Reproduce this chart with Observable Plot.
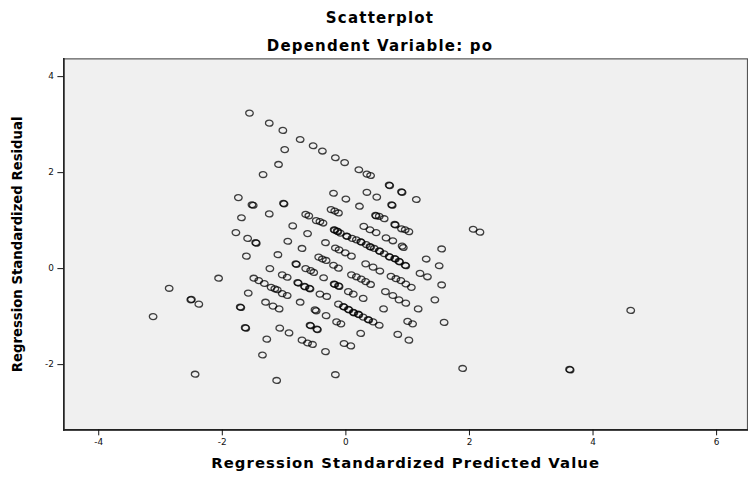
<!DOCTYPE html>
<html>
<head>
<meta charset="utf-8">
<script src="https://cdn.jsdelivr.net/npm/d3@7"></script>
<script src="https://cdn.jsdelivr.net/npm/@observablehq/plot@0.6"></script>
<style>
  html, body { margin: 0; padding: 0; background: #fff; overflow: hidden; }
  #wrap { position: relative; width: 748px; height: 478px; overflow: hidden; }
  .ttl { position: absolute; left: 0; width: 760px; text-align: center;
         font-family: "DejaVu Sans", sans-serif; font-weight: bold; font-size: 15px;
         line-height: 15px; letter-spacing: 1.2px; color: #000; }
  #chart svg g[aria-label="x-axis label"] text { font-weight: bold; font-size: 15px; letter-spacing: 1.1px; fill: #000; }
  #chart svg g[aria-label="y-axis label"] text { font-weight: bold; font-size: 13.4px; fill: #000; }
</style>
</head>
<body>
<div id="wrap">
  <div id="chart"></div>
  <div class="ttl" style="top:10.5px">Scatterplot</div>
  <div class="ttl" style="top:38.5px">Dependent Variable: po</div>
</div>
<script>
// Regression standardized predicted value (x) and residual (y)
const predicted = [
  -1.56,-1.24,-1.02,-0.99,-1.09,-1.34,-1.74,-1.52,-1.50,-1.01,
  -1.00,-1.69,-1.24,-0.86,-1.78,-1.59,-1.46,-1.45,-0.94,-1.61,
  -1.10,-0.81,-0.80,-1.23,-1.03,-0.95,-1.49,-1.41,-1.32,-1.21,
  -1.15,-1.11,-1.03,-0.95,-1.58,-1.71,-1.70,-1.30,-1.18,-1.08,
  -1.63,-1.62,-1.07,-0.92,-1.28,-1.35,-1.12,-2.06,-2.86,-2.51,
  -2.50,-2.38,-3.12,-2.44,
  -0.74,-0.53,-0.38,-0.17,-0.65,-0.60,-0.48,-0.42,-0.37,-0.62,
  -0.71,-0.33,-0.20,-0.24,-0.18,-0.12,-0.19,-0.18,-0.14,-0.13,
  -0.09,-0.17,-0.11,-0.44,-0.38,-0.32,-0.20,-0.12,-0.65,-0.57,
  -0.52,-0.78,-0.77,-0.67,-0.66,-0.59,-0.58,-0.36,-0.19,-0.18,
  -0.12,-0.11,-0.42,-0.31,-0.74,-0.50,-0.48,-0.32,-0.12,-0.15,
  -0.08,-0.58,-0.57,-0.47,-0.46,-0.71,-0.62,-0.54,-0.33,-0.17,
  -0.02,0.21,0.34,0.40,0.70,0.71,0.90,0.91,0.34,0.50,
  0.00,0.22,0.74,0.75,0.48,0.49,0.54,0.62,0.79,0.80,
  0.90,0.96,1.02,0.29,0.39,0.49,0.65,0.76,0.91,0.93,
  0.01,0.02,0.10,0.17,0.24,0.25,0.33,0.39,0.40,0.46,
  0.54,0.55,0.62,0.70,0.71,0.79,0.80,0.86,0.87,0.96,
  0.97,-0.01,0.09,0.32,0.44,0.55,0.09,0.17,0.25,0.32,
  0.40,0.73,0.81,0.89,0.97,1.06,0.04,0.12,0.28,0.64,
  0.76,0.86,0.97,0.61,-0.04,-0.03,0.04,0.05,0.12,0.13,
  0.20,0.21,0.28,0.36,0.37,0.44,0.54,1.00,1.08,0.24,
  0.84,1.02,-0.03,0.08,
  1.14,1.55,1.30,1.51,1.20,1.32,1.55,1.44,1.17,1.59,
  2.06,2.17,1.89,3.62,3.63,4.61
];
const residual = [
  3.24,3.03,2.88,2.48,2.17,1.96,1.48,1.33,1.32,1.36,
  1.35,1.06,1.14,0.89,0.75,0.63,0.54,0.53,0.57,0.26,
  0.29,0.10,0.09,0.00,-0.13,-0.18,-0.20,-0.25,-0.31,-0.39,
  -0.42,-0.44,-0.52,-0.56,-0.51,-0.80,-0.81,-0.70,-0.78,-0.84,
  -1.23,-1.24,-1.24,-1.34,-1.47,-1.80,-2.33,-0.20,-0.41,-0.65,
  -0.64,-0.74,-1.00,-2.20,
  2.69,2.56,2.45,2.31,1.13,1.10,1.00,0.98,0.95,0.73,
  0.42,0.54,1.57,1.23,1.20,1.16,0.81,0.80,0.78,0.77,
  0.74,0.43,0.39,0.24,0.20,0.17,0.07,0.01,0.00,-0.04,
  -0.08,-0.29,-0.30,-0.37,-0.38,-0.41,-0.42,-0.19,-0.32,-0.33,
  -0.36,-0.37,-0.53,-0.58,-0.70,-0.86,-0.88,-0.98,-0.74,-1.11,
  -1.15,-1.18,-1.19,-1.26,-1.27,-1.49,-1.55,-1.58,-1.73,-2.21,
  2.21,2.06,1.97,1.94,1.74,1.73,1.60,1.59,1.59,1.49,
  1.45,1.30,1.33,1.32,1.11,1.10,1.09,1.04,0.92,0.91,
  0.83,0.81,0.77,0.88,0.81,0.75,0.64,0.58,0.47,0.44,
  0.68,0.67,0.63,0.60,0.56,0.55,0.50,0.46,0.45,0.42,
  0.37,0.36,0.31,0.25,0.24,0.21,0.20,0.15,0.14,0.07,
  0.06,0.33,0.26,0.10,0.03,-0.05,-0.13,-0.17,-0.22,-0.27,
  -0.33,-0.16,-0.21,-0.25,-0.32,-0.39,-0.48,-0.53,-0.62,-0.48,
  -0.56,-0.65,-0.72,-0.84,-0.79,-0.80,-0.85,-0.86,-0.91,-0.92,
  -0.95,-0.96,-1.01,-1.06,-1.07,-1.11,-1.18,-1.10,-1.15,-1.35,
  -1.37,-1.49,-1.56,-1.61,
  1.44,0.41,0.20,0.06,-0.10,-0.17,-0.34,-0.65,-0.84,-1.12,
  0.82,0.76,-2.08,-2.10,-2.11,-0.87
];
const xTicks = [-4, -2, 0, 2, 4, 6];
const yTicks = [-2, 0, 2, 4];
const xLabel = "Regression Standardized Predicted Value";
const yLabel = "Regression Standardized Residual";

const points = predicted.map((x, i) => ({x, y: residual[i]}));

// slightly wide ellipse marker (the reference circles are a little stretched)
const ellipse = {
  draw(ctx, size) {
    const r = Math.sqrt(size / Math.PI), a = r * 1.12, b = r * 0.88, k = 0.5523;
    ctx.moveTo(a, 0);
    ctx.bezierCurveTo(a, b * k, a * k, b, 0, b);
    ctx.bezierCurveTo(-a * k, b, -a, b * k, -a, 0);
    ctx.bezierCurveTo(-a, -b * k, -a * k, -b, 0, -b);
    ctx.bezierCurveTo(a * k, -b, a, -b * k, a, 0);
    ctx.closePath();
  }
};

const chart = Plot.plot({
  width: 756,
  height: 478,
  marginLeft: 64,
  marginRight: 1,
  marginTop: 59,
  marginBottom: 44,
  style: {fontFamily: "DejaVu Sans, sans-serif", fontSize: "9px", color: "#111", background: "transparent", overflow: "visible"},
  x: {domain: [-4.565, 6.5]},
  y: {domain: [-3.36, 4.37]},
  marks: [
    Plot.frame({fill: "#f0f0f0", stroke: "#555", strokeWidth: 1.2}),
    Plot.frame({anchor: "left", stroke: "#222", strokeWidth: 1.6}),
    Plot.frame({anchor: "bottom", stroke: "#222", strokeWidth: 1.6}),
    Plot.axisX({ticks: xTicks, tickSize: 6, tickPadding: 3, tickFormat: d => String(d),
      label: xLabel, labelAnchor: "center", labelArrow: "none", labelOffset: 39}),
    Plot.axisY({ticks: yTicks, tickSize: 6, tickPadding: 4, tickFormat: d => String(d),
      label: yLabel, labelAnchor: "center", labelArrow: "none", labelOffset: 52}),
    Plot.dot(points, {x: "x", y: "y", symbol: ellipse, r: 3.4, fill: "none",
      stroke: "#000", strokeOpacity: 0.74, strokeWidth: 1.3})
  ]
});
document.getElementById("chart").appendChild(chart);
</script>
</body>
</html>
